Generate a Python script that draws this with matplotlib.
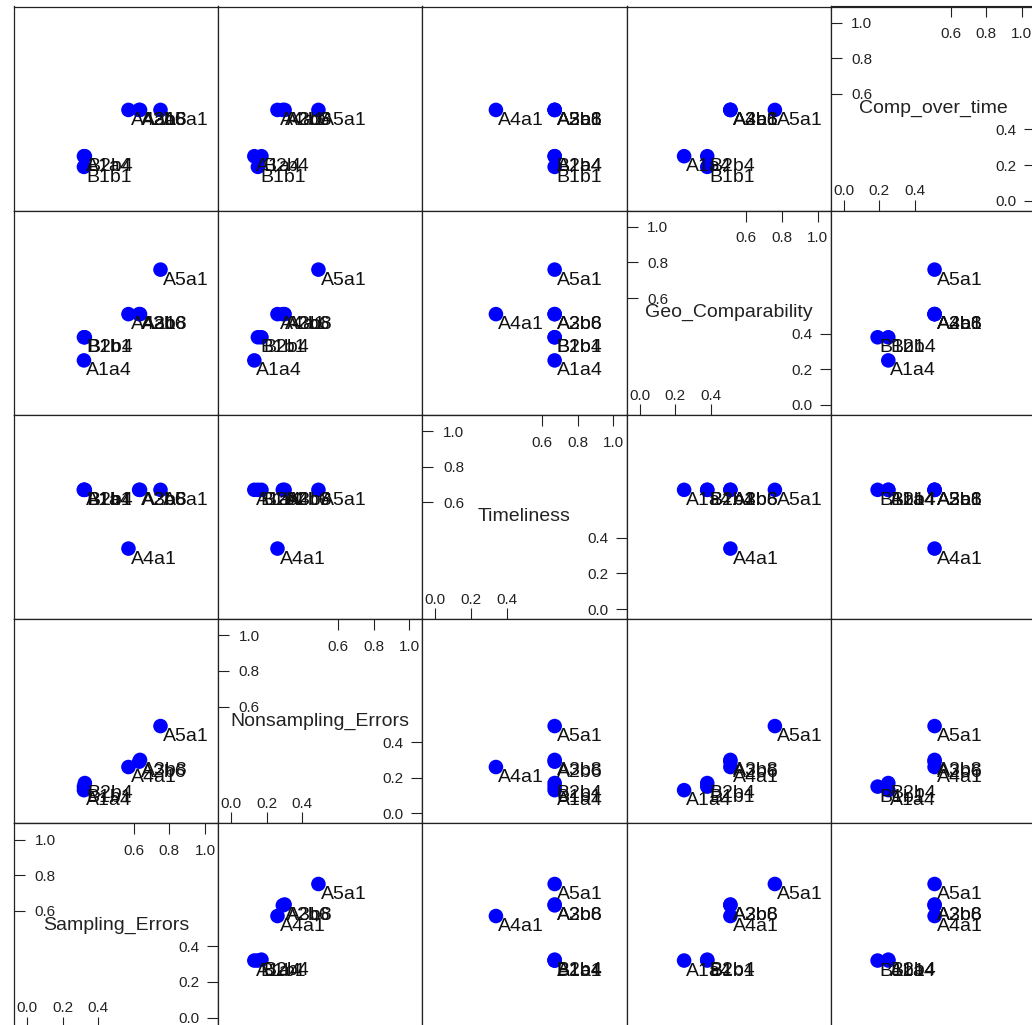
import matplotlib
matplotlib.use('Agg')
import matplotlib.pyplot as plt

plt.rcParams['font.family'] = ['Liberation Sans', 'DejaVu Sans']

# scores of each sample
samples = ['A1a4', 'A2b6', 'A3b8', 'A4a1', 'A5a1', 'B1b1', 'B2b4']
sampling_errors = [0.32, 0.63, 0.635, 0.57, 0.75, 0.32, 0.325]
nonsampling_errors = [0.13, 0.29, 0.30, 0.26, 0.49, 0.15, 0.17]
timeliness = [0.67, 0.67, 0.67, 0.34, 0.67, 0.67, 0.67]
geo_comparability = [0.25, 0.51, 0.51, 0.51, 0.76, 0.38, 0.38]
comp_over_time = [0.25, 0.51, 0.51, 0.51, 0.51, 0.19, 0.25]

var_names = ['Sampling_Errors', 'Nonsampling_Errors', 'Timeliness',
             'Geo_Comparability', 'Comp_over_time']
var_values = [sampling_errors, nonsampling_errors, timeliness,
              geo_comparability, comp_over_time]

low_ticks = [0.0, 0.2, 0.4]
high_ticks = [0.6, 0.8, 1.0]

# figure is 1032 x 1025 px, panels are ~204 px and run a bit off the edge
W, H = 1032, 1025
cell = 204.2
x_start, y_start = 14, 6.5
xlim = (-13 / 178, (cell - 13) / 178)
ylim = (-10 / 178, (cell - 10) / 178)
edge = '#222222'


def diag_panel(ax, name):
    ax.text(0.5, 0.5, name, transform=ax.transAxes, ha='center', va='center',
            fontsize=14, color='#222222')
    # left + bottom carry the low/high ticks, labels sit inside the box
    ax.set_yticks(high_ticks)
    ax.set_xticks(low_ticks)
    ax.tick_params(axis='y', direction='in', length=8, width=0.8,
                   pad=-30, labelsize=11, colors='#222222')
    ax.tick_params(axis='x', direction='in', length=8, width=0.8,
                   pad=-19, labelsize=11, colors='#222222')
    right = ax.secondary_yaxis('right')
    right.set_yticks(low_ticks)
    right.tick_params(direction='in', length=8, width=0.8, pad=-28.5,
                      labelsize=11, colors='#222222')
    right.spines['right'].set_color(edge)
    top = ax.secondary_xaxis('top')
    top.set_xticks(high_ticks)
    top.tick_params(direction='in', length=8, width=0.8, pad=-25,
                    labelsize=11, colors='#222222')
    top.spines['top'].set_color(edge)


def scatter_panel(ax, xs, ys):
    ax.scatter(xs, ys, s=110, color='#0000FF', edgecolors='none', zorder=2)
    for name, x, y in zip(samples, xs, ys):
        ax.annotate(name, (x, y), xytext=(1.5, -1.5), textcoords='offset points',
                    ha='left', va='top', fontsize=14, color='#111111', zorder=3)
    ax.set_xticks([])
    ax.set_yticks([])


fig = plt.figure(figsize=(W / 100, H / 100), dpi=100)

for r in range(5):
    for c in range(5):
        left = (x_start + c * cell) / W
        bottom = 1 - (y_start + (r + 1) * cell) / H
        ax = fig.add_axes([left, bottom, cell / W, cell / H])
        ax.set_xlim(xlim)
        ax.set_ylim(ylim)
        for sp in ax.spines.values():
            sp.set_color(edge)
            sp.set_linewidth(0.9)
        xi = c
        yi = 4 - r
        if xi == yi:
            diag_panel(ax, var_names[xi])
        else:
            scatter_panel(ax, var_values[xi], var_values[yi])

fig.savefig('out.png', dpi=100)
